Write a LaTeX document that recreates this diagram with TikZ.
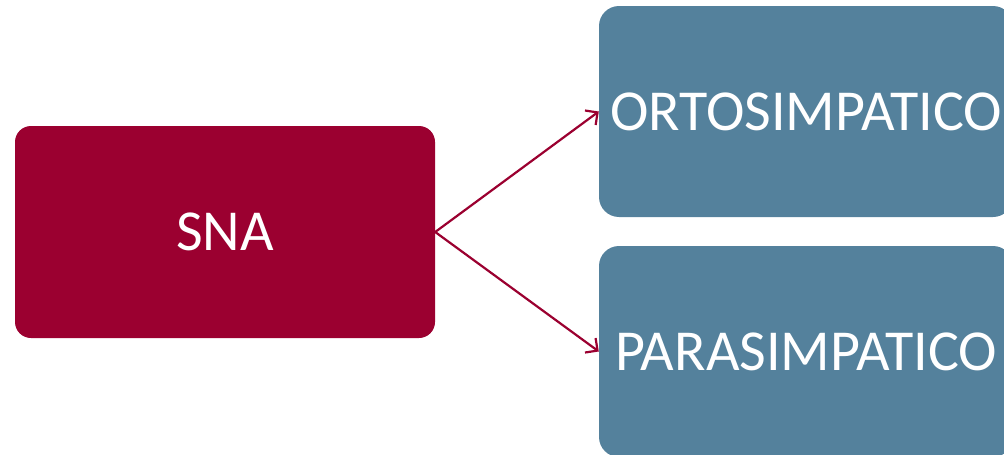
\documentclass[tikz,border=0pt]{standalone}
\usepackage{fontspec}
\setmainfont{Carlito}
\usetikzlibrary{arrows.meta}
\definecolor{snared}{RGB}{155,0,48}
\definecolor{boxblue}{RGB}{84,129,156}
\tikzset{
  redbox/.style={fill=snared, draw=none, rounded corners=16pt, minimum width=420pt, minimum height=212pt, inner sep=0pt, text=white, font=\fontsize{58}{64}\selectfont},
  bluebox/.style={fill=boxblue, draw=none, rounded corners=20pt, minimum width=414pt, minimum height=211pt, inner sep=0pt, text=white, font=\fontsize{58}{64}\selectfont},
  arr/.style={draw=snared, line width=2.2pt, -{Straight Barb[length=9pt,width=18pt,line width=2.2pt]}}
}
\begin{document}
\begin{tikzpicture}[x=1pt,y=-1pt]
\useasboundingbox (0,0) rectangle (1004,455);
\clip (0,0) rectangle (1004,455);
\node[redbox] (sna) at (225,232) {SNA};
\node[bluebox] (orto) at (806,111.5) {ORTOSIMPATICO};
\node[bluebox] (para) at (806,351.5) {PARASIMPATICO};
\draw[arr] (sna.east) -- (orto.west);
\draw[arr] (sna.east) -- (para.west);
\end{tikzpicture}
\end{document}
